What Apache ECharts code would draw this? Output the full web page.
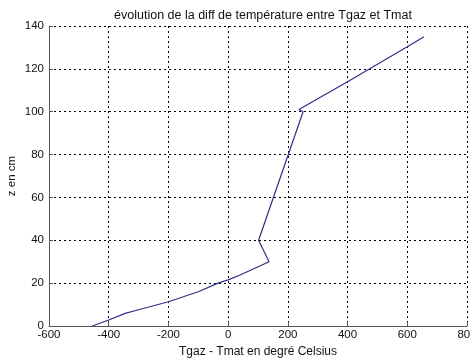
<!DOCTYPE html>
<html>
<head>
<meta charset="utf-8">
<script src="https://cdn.jsdelivr.net/npm/echarts@6/dist/echarts.min.js"></script>
<style>
  html, body { margin: 0; padding: 0; background: #fff; }
  #chart { width: 470px; height: 359px; }
</style>
</head>
<body>
<div id="chart"></div>
<script>
// temperature difference (Tgaz - Tmat), degrees Celsius
const tempDiff = [-455, -400, -345, -300, -200, -100, -34, 0, 40, 137, 102, 251, 237, 400, 600, 656];
// height z, cm
const height = [0, 2.8, 5.9, 7.6, 11.3, 16, 20, 21.5, 23.8, 30, 40, 100, 101, 114, 130.3, 135];

const xTicks = { min: -600, max: 800, interval: 200 };
const yTicks = { min: 0, max: 140, interval: 20 };

const TEXT_FONT = 'Liberation Sans, Arial, sans-serif';
const GRID_LINE = { color: '#000', type: [2, 3], width: 1 };
const AXIS_LINE = { color: '#555', width: 1 };

const chart = echarts.init(document.getElementById('chart'));

chart.setOption({
  animation: false,
  title: {
    text: 'évolution de la diff de température entre Tgaz et Tmat',
    left: 258,
    textAlign: 'center',
    top: 4,
    textStyle: { fontFamily: TEXT_FONT, fontSize: 12.5, fontWeight: 'normal', color: '#111' },
  },
  grid: { left: 49, right: 3, top: 26, bottom: 33, containLabel: false, outerBoundsMode: 'none' },
  xAxis: {
    type: 'value',
    ...xTicks,
    name: 'Tgaz - Tmat en degré Celsius',
    nameLocation: 'middle',
    nameGap: 20,
    nameMoveOverlap: false,
    nameTextStyle: { fontFamily: TEXT_FONT, fontSize: 12, color: '#111' },
    axisLine: { onZero: false, lineStyle: AXIS_LINE },
    axisTick: { inside: true, length: 4, lineStyle: AXIS_LINE },
    axisLabel: { margin: 3, fontFamily: TEXT_FONT, fontSize: 11.5, color: '#111' },
    splitLine: { show: true, lineStyle: GRID_LINE },
  },
  yAxis: {
    type: 'value',
    ...yTicks,
    name: 'z en cm',
    nameLocation: 'middle',
    nameGap: 31,
    nameMoveOverlap: false,
    nameTextStyle: { fontFamily: TEXT_FONT, fontSize: 11.5, color: '#111' },
    axisLine: { show: true, onZero: false, lineStyle: AXIS_LINE },
    axisTick: { show: true, inside: true, length: 4, lineStyle: AXIS_LINE },
    axisLabel: { margin: 5, fontFamily: TEXT_FONT, fontSize: 11.5, color: '#111' },
    splitLine: { show: true, lineStyle: GRID_LINE },
  },
  series: [
    {
      type: 'line',
      data: tempDiff.map((x, i) => [x, height[i]]),
      showSymbol: false,
      smooth: false,
      lineStyle: { color: '#2e2e8c', width: 1.2 },
    },
  ],
});
</script>
</body>
</html>
